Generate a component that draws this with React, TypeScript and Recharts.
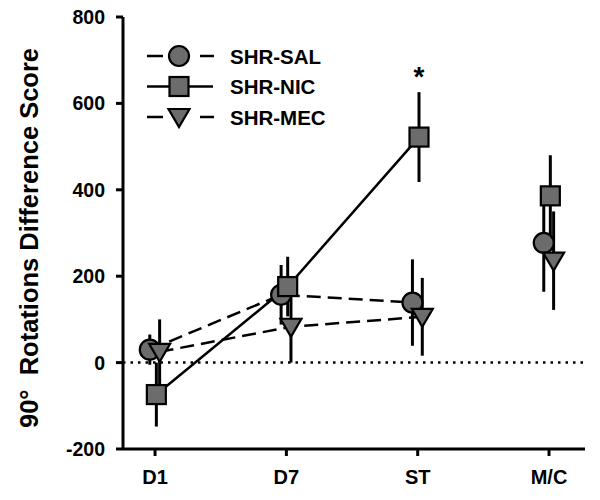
import React from 'react';
import { ComposedChart, Line, XAxis, YAxis, ErrorBar, ReferenceLine, LabelList } from 'recharts';

const categories = ['D1', 'D7', 'ST', 'M/C'];
const salMean = [30, 157, 139, 277];
const salErr = [35, 69, 100, 113];
const nicMean = [-74, 176, 522, 386];
const nicErr = [74, 69, 104, 94];
const mecMean = [25, 83, 106, 236];
const mecErr = [75, 83, 90, 114];
const nicMarks = ['', '', '*', ''];
const yTicks = [-200, 0, 200, 400, 600, 800];

const FONT = '"Liberation Sans", Arial, Helvetica, sans-serif';
const FILL = '#6c6c6c';

const Circle = (cx: number, cy: number, key?: any) => (
  <circle key={key} cx={cx} cy={cy} r={10} fill={FILL} stroke="#000" strokeWidth={2.2} />
);
const Square = (cx: number, cy: number, key?: any) => (
  <rect key={key} x={cx - 9.5} y={cy - 9.5} width={19} height={19} fill={FILL} stroke="#000" strokeWidth={2.2} />
);
const Tri = (cx: number, cy: number, key?: any) => (
  <polygon key={key} points={`${cx - 10.5},${cy - 8} ${cx + 10.5},${cy - 8} ${cx},${cy + 10}`} fill={FILL} stroke="#000" strokeWidth={2.2} strokeLinejoin="miter" />
);

type Series = { name: string; mean: number[]; err: number[]; off: number; dash?: string; shape: (cx: number, cy: number, key?: any) => any; marks?: string[] };

const series: Series[] = [
  { name: 'SHR-SAL', mean: salMean, err: salErr, off: -0.04, dash: '14 7', shape: Circle },
  { name: 'SHR-NIC', mean: nicMean, err: nicErr, off: 0.01, shape: Square, marks: nicMarks },
  { name: 'SHR-MEC', mean: mecMean, err: mecErr, off: 0.035, dash: '14 7', shape: Tri },
];

const rowsOf = (s: Series) =>
  categories.map((c, i) => ({ x: i + s.off, y: s.mean[i], err: s.err[i], mark: s.marks ? s.marks[i] : '' }));

const LegendBox = () => (
  <svg width={220} height={100} style={{ position: 'absolute', left: 140, top: 38 }}>
    {series.map((s, i) => {
      const cy = 18 + i * 30.5;
      const x0 = 7;
      return (
        <g key={s.name}>
          {s.dash ? (
            <g>
              <line x1={x0} x2={x0 + 16} y1={cy} y2={cy} stroke="#000" strokeWidth={2.5} />
              <line x1={x0 + 53} x2={x0 + 67} y1={cy} y2={cy} stroke="#000" strokeWidth={2.5} />
            </g>
          ) : (
            <line x1={x0} x2={x0 + 66} y1={cy} y2={cy} stroke="#000" strokeWidth={2.5} />
          )}
          {s.shape(x0 + 32, cy)}
          <text x={90} y={cy + 7.5} fontFamily={FONT} fontWeight="bold" fontSize={20.5} fill="#000">{s.name}</text>
        </g>
      );
    })}
  </svg>
);

const StarLabel = (props: any) => {
  const { x, y, value } = props;
  if (!value) return null;
  return (
    <text x={x} y={y - 51} textAnchor="middle" fontFamily={FONT} fontWeight="bold" fontSize={28} fill="#000">{value}</text>
  );
};

export default function App() {
  return (
    <div style={{ position: 'absolute', left: 0, top: 0, width: 600, height: 500, background: '#fff' }}>
      <ComposedChart width={600} height={500} margin={{ top: 17, right: 15, bottom: 0, left: 0 }}>
        <XAxis
          type="number"
          dataKey="x"
          domain={[-0.244, 3.274]}
          ticks={[0, 1, 2, 3]}
          tickFormatter={(v: number) => categories[Math.round(v)]}
          allowDataOverflow
          height={51}
          axisLine={{ stroke: '#000', strokeWidth: 3 }}
          tickLine={{ stroke: '#000', strokeWidth: 3 }}
          tickSize={7}
          tickMargin={14}
          tick={{ fill: '#000', fontSize: 20, fontWeight: 'bold', fontFamily: FONT }}
        />
        <YAxis
          type="number"
          domain={[-200, 800]}
          ticks={yTicks}
          width={123}
          axisLine={{ stroke: '#000', strokeWidth: 3 }}
          tickLine={{ stroke: '#000', strokeWidth: 3 }}
          tickSize={7}
          tickMargin={11}
          tick={{ fill: '#000', fontSize: 19.5, fontWeight: 'bold', fontFamily: FONT }}
          label={{
            content: () => (
              <text transform="translate(38, 238) rotate(-90)" textAnchor="middle" fontFamily={FONT} fontWeight="bold" fontSize={25.5} fill="#000" style={{ whiteSpace: 'pre' }}>
                {'90°  Rotations Difference Score'}
              </text>
            ),
          }}
        />
        <ReferenceLine y={0} stroke="#000" strokeWidth={2.5} strokeDasharray="2.5 5" />
        {series.map((s) => {
          const rows = rowsOf(s);
          return [
            <Line
              key={s.name + '-a'}
              data={rows.slice(0, 3)}
              dataKey="y"
              stroke="#000"
              strokeWidth={2.5}
              strokeDasharray={s.dash}
              isAnimationActive={false}
              dot={(p: any) => s.shape(p.cx, p.cy, p.key ?? p.index)}
              activeDot={false}
              legendType="none"
            >
              <ErrorBar dataKey="err" width={0} stroke="#000" strokeWidth={3} direction="y" />
              {s.marks ? <LabelList dataKey="mark" content={StarLabel} /> : null}
            </Line>,
            <Line
              key={s.name + '-b'}
              data={rows.slice(3)}
              dataKey="y"
              stroke="none"
              isAnimationActive={false}
              dot={(p: any) => s.shape(p.cx, p.cy, p.key ?? p.index)}
              activeDot={false}
              legendType="none"
            >
              <ErrorBar dataKey="err" width={0} stroke="#000" strokeWidth={3} direction="y" />
            </Line>,
          ];
        })}
      </ComposedChart>
      <LegendBox />
    </div>
  );
}
